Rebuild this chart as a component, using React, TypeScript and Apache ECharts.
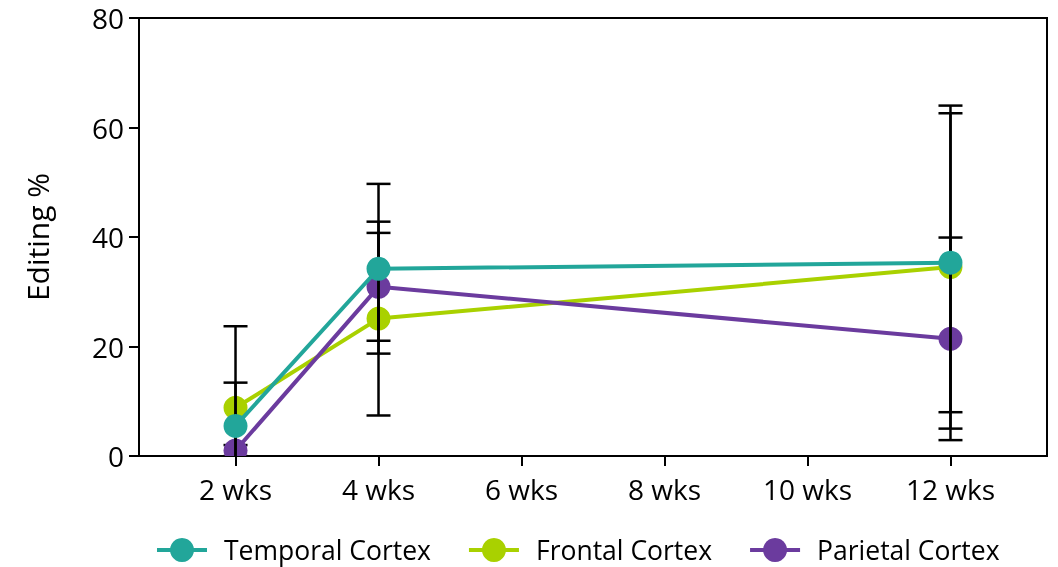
import React, { useEffect, useRef } from "react";
import * as echarts from "echarts";

const weeks = [2, 4, 12];
const tickWeeks = [2, 4, 6, 8, 10, 12];
const seriesNames = ["Temporal Cortex", "Frontal Cortex", "Parietal Cortex"];
const temporal = [5.5, 34.2, 35.3];
const temporalErr = [7.9, 15.5, 27.3];
const frontal = [8.8, 25.1, 34.5];
const frontalErr = [14.9, 17.7, 29.5];
const parietal = [1.0, 30.9, 21.4];
const parietalErr = [1.0, 9.85, 18.5];
const colors = ["#22a69a", "#a9d100", "#6b3b9e"];

const FONT = "Open Sans";

export default function App() {
  const ref = useRef<HTMLDivElement>(null);
  useEffect(() => {
    if (!ref.current) return;
    const chart = echarts.init(ref.current, null, { renderer: "svg" });
    const means = [temporal, frontal, parietal];
    const errs = [temporalErr, frontalErr, parietalErr];

    const errDataFor = (list: number[]) => {
      const out: number[][] = [];
      list.forEach((s) => {
        means[s].forEach((v, i) => {
          out.push([weeks[i], v - errs[s][i], v + errs[s][i]]);
        });
      });
      return out;
    };

    const lineZ = [6, 2, 3];

    const lineSeries = seriesNames.map((name, s) => ({
      name,
      type: "line",
      data: weeks.map((w, i) => [w, means[s][i]]),
      symbol: "circle",
      showSymbol: false,
      symbolSize: 24,
      lineStyle: { color: colors[s], width: 4 },
      itemStyle: { color: colors[s] },
      z: lineZ[s],
      clip: true,
    }));

    const markerSeries = seriesNames.map((name, s) => ({
      type: "custom",
      name: name + " markers",
      data: weeks.map((w, i) => [w, means[s][i]]),
      clip: true,
      z: lineZ[s] + 0.5,
      renderItem: (params: any, api: any) => {
        const p = api.coord([api.value(0), api.value(1)]);
        return {
          type: "circle",
          shape: { cx: p[0], cy: p[1], r: 12 },
          style: { fill: colors[s] },
        };
      },
    }));

    const renderErr = (params: any, api: any) => {
      const x = api.value(0);
      const top = api.coord([x, api.value(2)]);
      const bot = api.coord([x, api.value(1)]);
      const hw = 12;
      const st = { stroke: "#000", lineWidth: 2.5 };
      return {
        type: "group",
        children: [
          { type: "line", shape: { x1: top[0], y1: top[1], x2: bot[0], y2: bot[1] }, style: st },
          { type: "line", shape: { x1: top[0] - hw, y1: top[1], x2: top[0] + hw, y2: top[1] }, style: st },
          { type: "line", shape: { x1: bot[0] - hw, y1: bot[1], x2: bot[0] + hw, y2: bot[1] }, style: st },
        ],
      };
    };

    const errSeriesMain = {
      type: "custom",
      name: "errors",
      data: errDataFor([0, 1]),
      clip: true,
      z: 4,
      renderItem: renderErr,
    };
    const errSeriesParietal = {
      type: "custom",
      name: "errors parietal",
      data: errDataFor([2]),
      clip: true,
      z: 2.8,
      renderItem: renderErr,
    };

    chart.setOption({
      animation: false,
      textStyle: { fontFamily: FONT },
      grid: {
        left: 139,
        right: 11,
        top: 18,
        bottom: 111,
        show: true,
        borderColor: "#000",
        borderWidth: 2,
        backgroundColor: "transparent",
      },
      legend: {
        data: seriesNames,
        left: 155,
        top: 536,
        padding: 0,
        itemWidth: 50,
        itemHeight: 30,
        itemGap: 36,
        lineStyle: { width: 4 },
        textStyle: {
          fontSize: 26.5,
          lineHeight: 28,
          color: "#000",
          fontFamily: FONT,
          padding: [0, 0, 0, 12],
        },
      },
      xAxis: {
        type: "value",
        min: 0.65,
        max: 13.35,
        splitLine: { show: false },
        axisLine: { lineStyle: { color: "#000", width: 2 } },
        axisTick: { customValues: tickWeeks, length: 10, lineStyle: { color: "#000", width: 2 } },
        axisLabel: {
          customValues: tickWeeks,
          formatter: (v: number) => `${v} wks`,
          fontSize: 28,
          color: "#000",
          fontFamily: FONT,
          margin: 19,
        },
      },
      yAxis: {
        type: "value",
        min: 0,
        max: 80,
        interval: 20,
        name: "Editing %",
        nameLocation: "middle",
        nameGap: 87,
        nameTextStyle: { fontSize: 30, color: "#000", fontFamily: FONT },
        splitLine: { show: false },
        axisLine: { show: true, lineStyle: { color: "#000", width: 2 } },
        axisTick: { show: true, length: 10, lineStyle: { color: "#000", width: 2 } },
        axisLabel: { fontSize: 28, color: "#000", fontFamily: FONT, margin: 15 },
      },
      series: [...lineSeries, ...markerSeries, errSeriesParietal, errSeriesMain],
    });
    return () => chart.dispose();
  }, []);
  return (
    <div
      ref={ref}
      style={{ position: "fixed", left: 0, top: 0, width: 1058, height: 567 }}
    />
  );
}
